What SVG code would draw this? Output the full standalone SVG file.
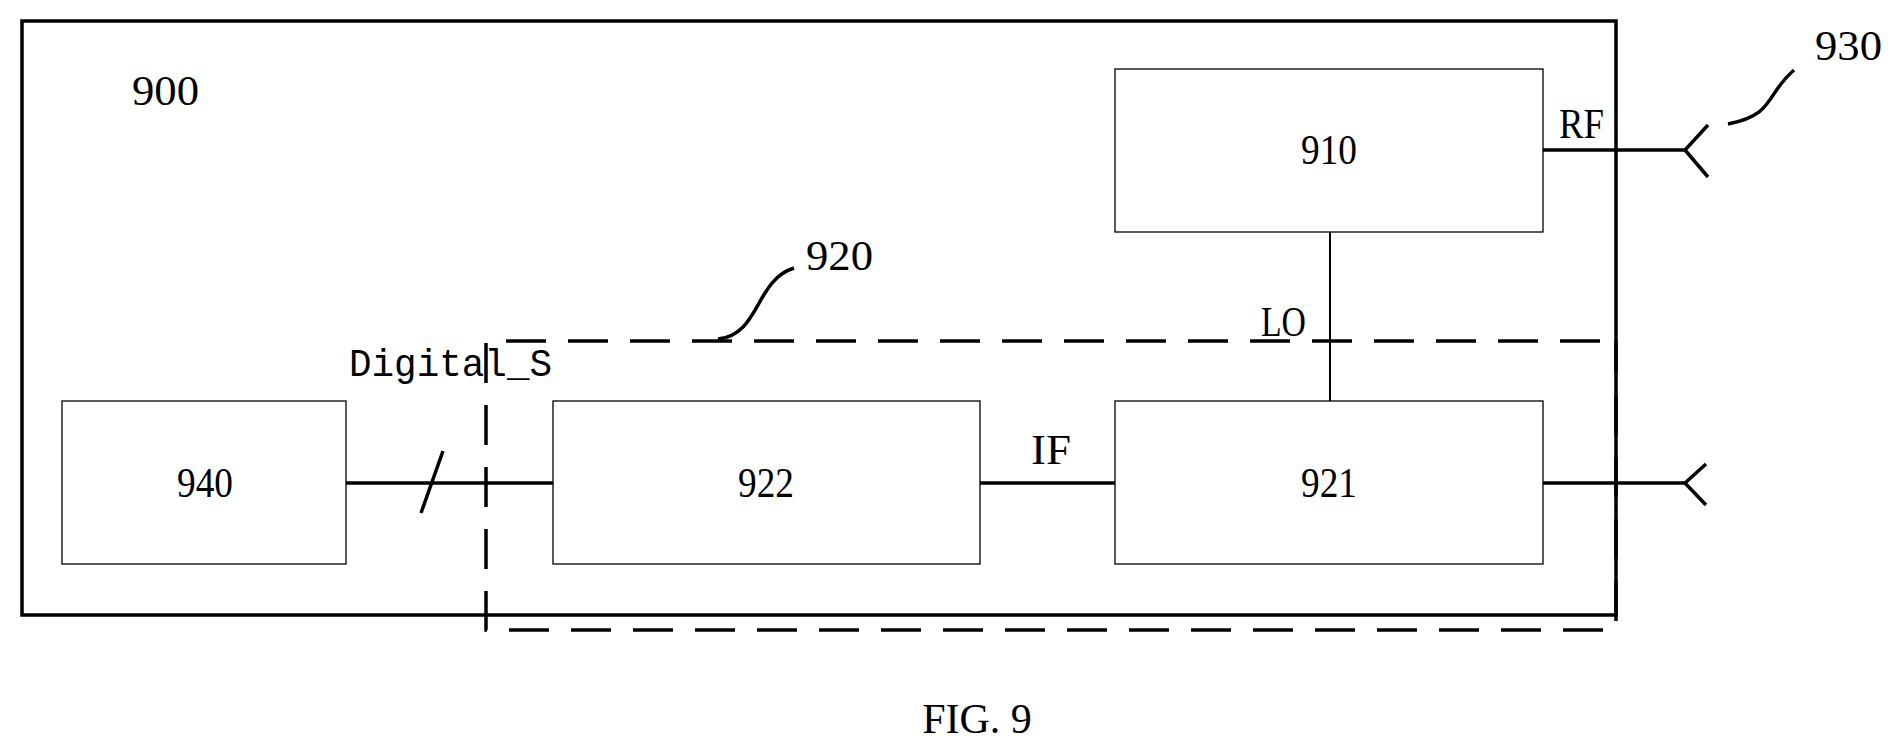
<svg xmlns="http://www.w3.org/2000/svg" width="1901" height="754" viewBox="0 0 1901 754">
<style>
.box{fill:none;stroke:#000;stroke-width:1.3}
.t{font-family:"Liberation Serif",serif;font-size:42px;fill:#000}
.w{stroke:#000;stroke-width:3.5;fill:none}
.d{stroke:#000;stroke-width:3.5;fill:none;stroke-dasharray:40 22}
</style>
<rect width="1901" height="754" fill="#fff"/>
<g id="n900"><rect x="22" y="21" width="1594" height="594" class="w"/><text class="t" x="132" y="105" textLength="67" lengthAdjust="spacingAndGlyphs">900</text></g>
<g id="n920"><path class="d" d="M1600,341 H486 V630 H1616 V341"/><text class="t" x="806" y="270" textLength="67" lengthAdjust="spacingAndGlyphs">920</text></g>
<g id="n940"><rect x="62" y="401" width="284" height="163" class="box"/><text class="t" x="205" y="497" text-anchor="middle" textLength="56" lengthAdjust="spacingAndGlyphs">940</text></g>
<g id="n922"><rect x="553" y="401" width="427" height="163" class="box"/><text class="t" x="766" y="497" text-anchor="middle" textLength="56" lengthAdjust="spacingAndGlyphs">922</text></g>
<g id="n921"><rect x="1115" y="401" width="428" height="163" class="box"/><text class="t" x="1329" y="497" text-anchor="middle" textLength="56" lengthAdjust="spacingAndGlyphs">921</text></g>
<g id="n910"><rect x="1115" y="69" width="428" height="163" class="box"/><text class="t" x="1329" y="164" text-anchor="middle" textLength="56" lengthAdjust="spacingAndGlyphs">910</text></g>
<g id="connectors">
<path class="w" d="M346,483 H553 M421,513 L443,451"/>
<path class="w" d="M980,483 H1115"/>
<path d="M1330,232 V401" stroke="#000" stroke-width="2"/>
<path class="w" d="M1543,150 H1685 M1708,125 L1685,150 L1708,177"/>
<path class="w" d="M1543,483 H1685 M1706,464 L1685,483 L1706,505"/>
<path class="w" d="M718,339 C760,335 755,280 794,268"/>
<path class="w" d="M1728,124 C1775,115 1765,95 1794,70"/>
<text class="t" x="1815" y="60" textLength="67" lengthAdjust="spacingAndGlyphs">930</text>
<text x="349" y="376" font-family="Liberation Mono,monospace" font-size="38" textLength="203" lengthAdjust="spacingAndGlyphs">Digital_S</text>
<text class="t" x="1559" y="138" textLength="45" lengthAdjust="spacingAndGlyphs">RF</text>
<text class="t" x="1031" y="464" textLength="40" lengthAdjust="spacingAndGlyphs">IF</text>
<text class="t" x="1261" y="336" textLength="45" lengthAdjust="spacingAndGlyphs">LO</text>
</g>
<text x="977" y="733" text-anchor="middle" font-family="Liberation Serif,serif" font-size="42">FIG. 9</text>
</svg>
